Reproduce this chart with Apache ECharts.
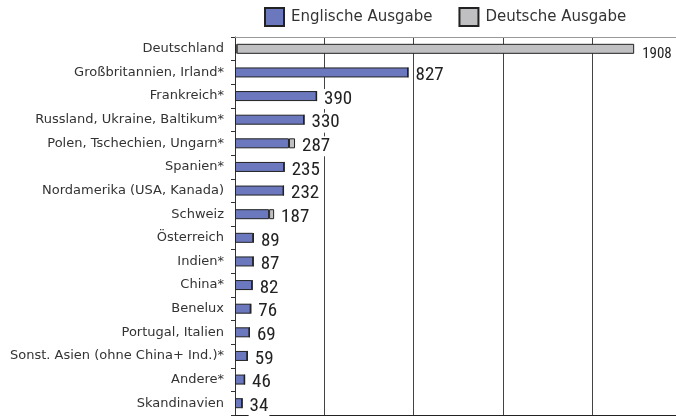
<!DOCTYPE html>
<html>
<head>
<meta charset="utf-8">
<script src="https://cdn.jsdelivr.net/npm/echarts@6/dist/echarts.min.js"></script>
<style>html,body{margin:0;padding:0;background:#fff;}#c{width:676px;height:416px;}</style>
</head>
<body>
<div id="c"></div>
<script>
const categories = ["Deutschland","Großbritannien, Irland*","Frankreich*","Russland, Ukraine, Baltikum*","Polen, Tschechien, Ungarn*","Spanien*","Nordamerika (USA, Kanada)","Schweiz","Österreich","Indien*","China*","Benelux","Portugal, Italien","Sonst. Asien (ohne China+ Ind.)*","Andere*","Skandinavien"];
const englisch = [8,827,390,330,258,235,232,163,87,87,82,75,69,59,46,34];
const deutsch  = [1900,0,0,0,29,0,0,24,2,0,0,1,0,0,0,0];
const totals   = [1908,827,390,330,287,235,232,187,89,87,82,76,69,59,46,34];
const seriesNames = ["Englische Ausgabe","Deutsche Ausgabe"];

const chart = echarts.init(document.getElementById('c'), null, {renderer:'canvas'});
const labelFont = '"Liberation Sans Narrow","Roboto Condensed","Arial Narrow",sans-serif';
const deutschData = deutsch.map((v,i)=>({
  value: v,
  label: i===0 ? {fontSize:15, offset:[1,5]} : {}
}));
chart.setOption({
  animation:false,
  backgroundColor:'#fff',
  legend:{
    top:2, left:259,
    itemWidth:19, itemHeight:18, itemGap:26,
    icon:'rect',
    textStyle:{fontFamily:'"DejaVu Sans",sans-serif', fontSize:15, color:'#333', padding:[0,0,0,2]},
    data:seriesNames
  },
  grid:{left:235, top:37, right:0, bottom:1, show:false, containLabel:false},
  xAxis:[{
    type:'value', min:0, max:2108, interval:427,
    axisLabel:{show:false}, axisTick:{show:false},
    axisLine:{show:true, lineStyle:{color:'#222', width:1}},
    splitLine:{show:true, lineStyle:{color:'#444', width:1}}
  },{
    type:'value', position:'top', min:0, max:2108, interval:427,
    axisLabel:{show:false}, axisTick:{show:false},
    axisLine:{show:true, lineStyle:{color:'#999', width:1}},
    splitLine:{show:false}
  }],
  yAxis:{
    type:'category', inverse:true, data:categories,
    axisLine:{show:true, lineStyle:{color:'#333'}},
    axisTick:{show:true, length:4, lineStyle:{color:'#333'}},
    axisLabel:{fontFamily:'"DejaVu Sans",sans-serif', fontSize:13, color:'#333', margin:11}
  },
  series:[
    {name:seriesNames[0], type:'bar', stack:'a', barWidth:10, data:englisch,
     itemStyle:{color:'#6b78bd', borderColor:'#222', borderWidth:1}},
    {name:seriesNames[1], type:'bar', stack:'a', barWidth:10, data:deutschData,
     itemStyle:{color:'#c0c0c2', borderColor:'#222', borderWidth:1},
     label:{show:true, position:'right', distance:6, offset:[0,3],
       formatter:p=>String(totals[p.dataIndex]),
       fontFamily:labelFont, fontSize:19, color:'#222',
       backgroundColor:'#fff', padding:[1,1,0,1]}}
  ]
});
</script>
</body>
</html>
